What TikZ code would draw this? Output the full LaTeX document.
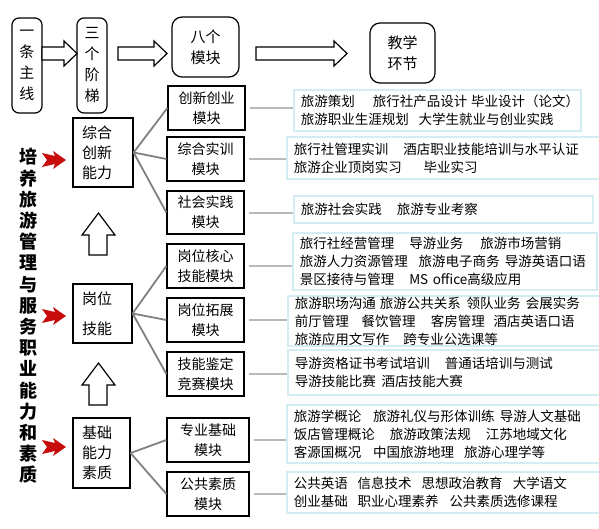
\documentclass[tikz,border=0pt]{standalone}
\usepackage{fontspec}
\setmainfont{Noto Sans CJK SC}
\definecolor{ln}{RGB}{128,128,128}
\definecolor{lt}{RGB}{185,185,185}
\definecolor{bx}{RGB}{214,236,243}
\definecolor{rd}{RGB}{200,12,12}
\newcommand{\sk}[1]{\kern#1pt}
\begin{document}
\begin{tikzpicture}[x=1pt,y=-1pt,
    rb/.style={draw,line width=1.2pt,rounded corners=7pt,align=center,inner sep=0pt,font=\fontsize{15}{21}\selectfont},
    lv/.style={draw,line width=1.2pt,align=left,inner xsep=9pt,inner ysep=0pt,font=\fontsize{15}{20}\selectfont},
    mk/.style={draw,line width=1.2pt,align=center,inner sep=0pt,minimum width=77pt,minimum height=44pt,font=\fontsize{14}{20}\selectfont},
    ct/.style={draw=bx,line width=1.5pt,align=left,inner xsep=7pt,inner ysep=0pt,anchor=west,font=\fontsize{13.5}{18}\selectfont},
    gl/.style={draw=ln,line width=1.8pt},
    sl/.style={draw=lt,line width=2pt},
    ha/.style={draw,line width=1.2pt,fill=white}]
        \useasboundingbox (0,0) rectangle (599,528);
        % top row
        \node[rb,minimum width=30pt,minimum height=95pt] (line) at (27,65.5) {一\\条\\主\\线};
        \node[rb,minimum width=30pt,minimum height=95pt] (steps) at (92,65.5) {三\\个\\阶\\梯};
        \node[rb,rounded corners=10pt,minimum width=67pt,minimum height=60pt] (mods) at (205.5,47) {八个\\模块};
        \node[rb,rounded corners=10pt,minimum width=65pt,minimum height=60pt] (teach) at (402.5,53) {教学\\环节};
        \foreach \a/\b in {42/77,118/167,256/347}
            \draw[ha] (\a,47) -- (\b-13,47) -- (\b-13,41) -- (\b,53.5) -- (\b-13,66) -- (\b-13,60) -- (\a,60) -- cycle;
        % goal
        \node[font=\bfseries\fontsize{18}{21.2}\selectfont,align=center,inner sep=0pt] (goal) at (28,316)
            {培\\养\\旅\\游\\管\\理\\与\\服\\务\\职\\业\\能\\力\\和\\素\\质};
        \foreach \y in {160,316,447}
            \fill[rd] (42,\y-7) -- (55,\y-4) -- (53,\y-9) -- (66,\y) -- (53,\y+9) -- (55,\y+4) -- (42,\y+7) -- (47,\y) -- cycle;
        % three steps
        \node[lv,text width=42pt,minimum height=69pt] (c1) at (103,152.5) {综合\\创新\\能力};
        \node[lv,text width=41pt,minimum height=59pt] (c2) at (102.5,313.5) {岗位\\[10pt]技能};
        \node[lv,text width=39pt,minimum height=70pt] (c3) at (101.5,453) {基础\\能力\\素质};
        \foreach \t in {213,363}
            \draw[ha] (89,\t+42) -- (89,\t+22) -- (82,\t+22) -- (98.5,\t) -- (115,\t+22) -- (107,\t+22) -- (107,\t+42) -- cycle;
        % eight modules
        \node[mk] (m1) at (206.5,108) {创新创业\\模块};
        \node[mk] (m2) at (205.5,159) {综合实训\\模块};
        \node[mk,minimum height=43pt] (m3) at (205.5,212.5) {社会实践\\模块};
        \node[mk] (m4) at (205.5,266) {岗位核心\\技能模块};
        \node[mk] (m5) at (205.5,320) {岗位拓展\\模块};
        \node[mk] (m6) at (205.5,374) {技能鉴定\\竞赛模块};
        \node[mk,minimum width=82pt] (m7) at (208,440) {专业基础\\模块};
        \node[mk,minimum width=82pt] (m8) at (208,494) {公共素质\\模块};
        % courses
        \node[ct,text width=273pt,minimum height=41pt] (t1) at (293,110.5)
            {旅游策划\sk{18}旅行社产品设计\sk{4}毕业设计（论文）\\旅游职业生涯规划\sk{10}大学生就业与创业实践};
        \node[ct,text width=300pt,minimum height=42pt] (t2) at (286,158)
            {旅行社管理实训\sk{15}酒店职业技能培训与水平认证\\旅游企业顶岗实习\sk{22}毕业实习};
        \node[ct,text width=285pt,minimum height=27pt] (t3) at (293,209.5)
            {旅游社会实践\sk{15}旅游专业考察};
        \node[ct,text width=290pt,minimum height=57pt] (t4) at (292,261.5)
            {旅行社经营管理\sk{15}导游业务\sk{17}旅游市场营销\\旅游人力资源管理\sk{11}旅游电子商务\sk{5}导游英语口语\\景区接待与管理\sk{15}MS office高级应用};
        \node[ct,text width=298pt,minimum height=50pt] (t5) at (287,321)
            {旅游职场沟通\sk{4}旅游公共关系\sk{6}领队业务\sk{5}会展实务\\前厅管理\sk{13}餐饮管理\sk{15}客房管理\sk{9}酒店英语口语\\旅游应用文写作\sk{14}跨专业公选课等};
        \node[ct,text width=298pt,minimum height=45pt] (t6) at (287,372.5)
            {导游资格证书考试培训\sk{15}普通话培训与测试\\导游技能比赛\sk{6}酒店技能大赛};
        \node[ct,text width=299pt,minimum height=58pt] (t7) at (286,434)
            {旅游学概论\sk{12}旅游礼仪与形体训练\sk{5}导游人文基础\\饭店管理概论\sk{15}旅游政策法规\sk{15}江苏地域文化\\客源国概况\sk{12}中国旅游地理\sk{10}旅游心理学等};
        \node[ct,text width=299pt,minimum height=41pt] (t8) at (286,492.5)
            {公共英语\sk{10}信息技术\sk{10}思想政治教育\sk{10}大学语文\\创业基础\sk{10}职业心理素养\sk{11}公共素质选修课程};
        % connectors
        \foreach \m in {m1,m2,m3} \draw[gl] (c1.east) -- (\m.west);
        \foreach \m in {m4,m5,m6} \draw[gl] (c2.east) -- (\m.west);
        \foreach \m in {m7,m8} \draw[gl] (c3.east) -- (\m.west);
        \foreach \m/\t in {m1/t1,m2/t2,m3/t3,m4/t4,m5/t5,m6/t6,m7/t7,m8/t8}
            \draw[sl] ([xshift=4pt]\m.east) -- (\m.east -| \t.west);
    \end{tikzpicture}
\end{document}
